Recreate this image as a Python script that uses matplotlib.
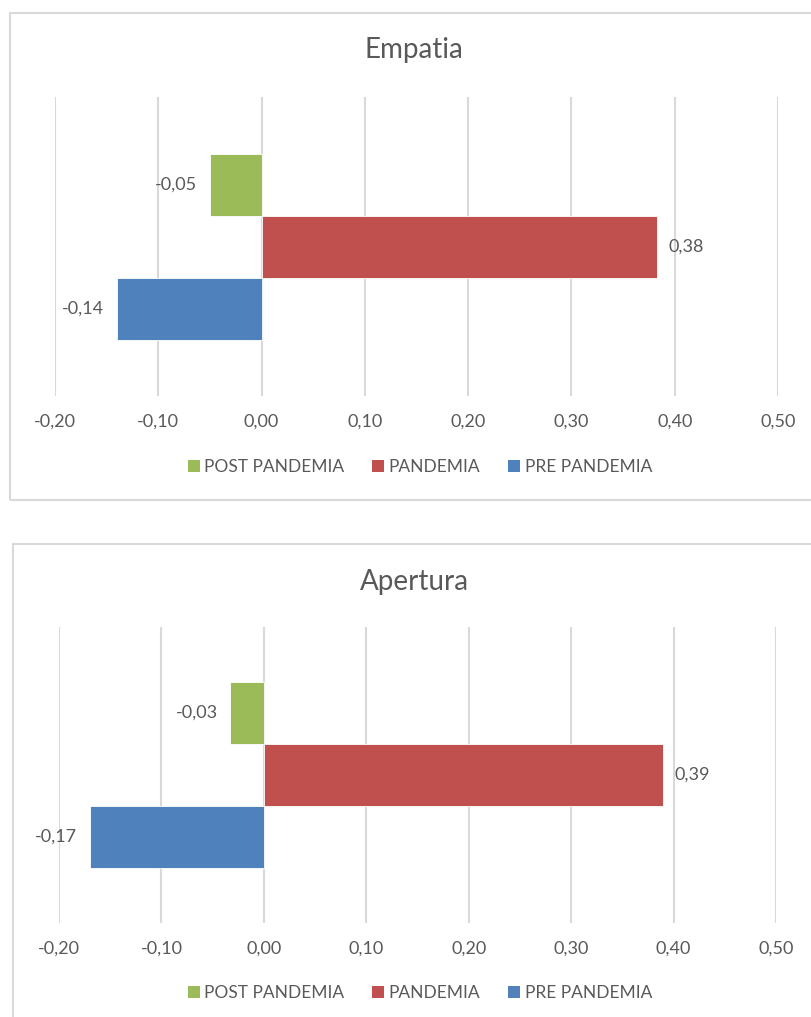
import matplotlib
matplotlib.use("Agg")
import matplotlib.pyplot as plt
from matplotlib.patches import Rectangle, Patch
from matplotlib.ticker import FuncFormatter

plt.rcParams['font.family'] = ['Lato', 'DejaVu Sans']

# ---- data ----
series = ["PRE PANDEMIA", "PANDEMIA", "POST PANDEMIA"]
colors = ["#4F81BD", "#C0504D", "#9BBB59"]
titles = ["Empatia", "Apertura"]
empatia = [-0.14, 0.383, -0.05]
apertura = [-0.17, 0.39, -0.033]
values = [empatia, apertura]
xticks = [-0.20, -0.10, 0.00, 0.10, 0.20, 0.30, 0.40, 0.50]

W, H = 811, 1017
fig = plt.figure(figsize=(W / 100, H / 100), dpi=100)
fig.patch.set_facecolor("white")

TEXT = "#595959"
GRID = "#D9D9D9"

def fx(px):
    return px / W

def fy(py):
    return 1 - py / H

panels = [
    dict(l=55, r=778, t=97, b=396, bx=10, bt=13, bb=500, ty=50, ly=467, lx=420),
    dict(l=59, r=776, t=627, b=923, bx=13, bt=544, bb=1030, ty=582, ly=993, lx=420),
]

fmt = FuncFormatter(lambda v, p: f"{v:.2f}".replace(".", ","))

for pi, (pn, vals, title) in enumerate(zip(panels, values, titles)):
    fig.patches.append(Rectangle((fx(pn["bx"]), fy(pn["bb"])), fx(W + 20 - pn["bx"]),
                                 fy(pn["bt"]) - fy(pn["bb"]), transform=fig.transFigure,
                                 fill=False, edgecolor=GRID, linewidth=1.5, zorder=0))
    ax = fig.add_axes([fx(pn["l"]), fy(pn["b"]), fx(pn["r"] - pn["l"]), (pn["b"] - pn["t"]) / H])
    ax.set_facecolor("none")
    n = len(series)
    for i, (s, c, v) in enumerate(zip(series, colors, vals)):
        ypos = i - (n - 1) / 2
        ax.barh(ypos, v, height=1.0, color=c, edgecolor="white", linewidth=0.6, zorder=3)
        lab = f"{v:.2f}".replace(".", ",")
        if v < 0:
            ax.annotate(lab, (v, ypos), xytext=(-9, 0), textcoords="offset points",
                        ha="right", va="center", fontsize=13, color=TEXT)
        else:
            ax.annotate(lab, (v, ypos), xytext=(8, 0), textcoords="offset points",
                        ha="left", va="center", fontsize=13, color=TEXT)
    bar_px = 62.0
    half = (pn["b"] - pn["t"]) / bar_px / 2
    ax.set_ylim(-half, half)
    ax.set_xlim(xticks[0], xticks[-1])
    ax.set_xticks(xticks)
    ax.xaxis.set_major_formatter(fmt)
    ax.set_yticks([])
    ax.grid(axis="x", color=GRID, linewidth=1.5, zorder=0)
    ax.set_axisbelow(True)
    for sp in ax.spines.values():
        sp.set_visible(False)
    ax.tick_params(axis="x", length=0, pad=13, labelsize=13, labelcolor=TEXT)

    fig.text(fx(414), fy(pn["ty"]), title, ha="center", va="center", fontsize=20, color=TEXT)

    handles = [Patch(facecolor=colors[k], edgecolor="none", label=series[k]) for k in [2, 1, 0]]
    fig.legend(handles=handles, loc="center", bbox_to_anchor=(fx(pn["lx"]), fy(pn["ly"])),
               ncol=3, frameon=False, fontsize=12.5, labelcolor=TEXT,
               handlelength=0.7, handleheight=0.7, handletextpad=0.25, columnspacing=1.6)

fig.savefig("out.png", dpi=100, facecolor="white")
